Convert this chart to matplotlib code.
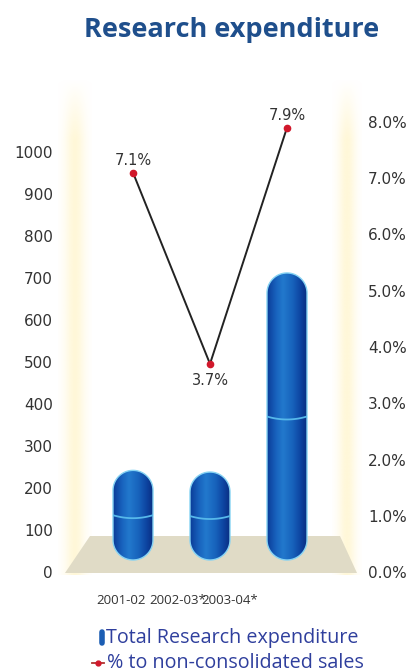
import numpy as np
import matplotlib
matplotlib.use('Agg')
import matplotlib.pyplot as plt
from matplotlib.colors import LinearSegmentedColormap, to_rgb
from matplotlib.patches import Polygon

# Research expenditure (left axis) and share of non-consolidated sales (right axis)
years = ['2001-02', '2002-03*', '2003-04*']
research_spend = [242, 238, 712]
pct_of_sales = [7.1, 3.7, 7.9]
spend_ticks = list(range(0, 1001, 100))
pct_ticks = list(range(0, 9))

W, H = 413, 672
fig = plt.figure(figsize=(W / 100, H / 100), dpi=100)

# --- background layer in pixel coordinates: side walls and floor ---
bg = fig.add_axes([0, 0, 1, 1])


def wall_strip(x0, x1, y0, y1, color='#fff6cf'):
    xs = np.linspace(-1, 1, 64)
    ys = np.linspace(0, 1, 200)
    alpha_x = np.exp(-(xs / 0.6) ** 2)
    alpha_y = np.clip(ys / 0.12, 0, 1)
    img = np.zeros((200, 64, 4))
    img[..., :3] = to_rgb(color)
    img[..., 3] = np.outer(alpha_y, alpha_x) * 0.8
    bg.imshow(img, extent=[x0, x1, y1, y0], aspect='auto',
              interpolation='bilinear', zorder=0)


wall_strip(58, 92, 78, 575)
wall_strip(332, 362, 78, 575)
bg.add_patch(Polygon([(65, 573), (357, 573), (340, 536), (90, 536)],
                     closed=True, fc='#e0dbc6', ec='none', zorder=1))

# legend drawn by hand
bg.plot([101.5, 101.5], [632, 643], lw=4, solid_capstyle='round', color='#1b5db3')
bg.text(106, 638, 'Total Research expenditure', ha='left', va='center',
        fontsize=14.2, color='#2f3f9d', family='Open Sans')
bg.plot([92, 104], [663, 663], color='#b0332e', lw=1.3)
bg.plot([98], [663], 'o', ms=3.5, color='#d1182b')
bg.text(107, 663, '% to non-consolidated sales', ha='left', va='center',
        fontsize=14.2, color='#2f3f9d', family='Open Sans')

bg.set_xlim(0, W)
bg.set_ylim(H, 0)
bg.axis('off')

# --- main chart ---
ax_box = [62, 122, 295, 450]  # left, top, width, height in px
ax = fig.add_axes([ax_box[0] / W, 1 - (ax_box[1] + ax_box[3]) / H,
                   ax_box[2] / W, ax_box[3] / H])
ax.patch.set_alpha(0)
xmin, xmax = -0.922, 2.909
ymax = 1000 * 450 / 420
ax.set_xlim(xmin, xmax)
ax.set_ylim(0, ymax)

px_x = ax_box[2] / (xmax - xmin)
px_y = ax_box[3] / ymax
hw = 20 / px_x
ry = 20 / px_y
base = 12 / px_y

bar_cmap = LinearSegmentedColormap.from_list('capsule', [
    (0.0, '#0b3c98'), (0.22, '#1862bd'), (0.4, '#2279cd'),
    (0.65, '#1762bb'), (0.85, '#0d43a0'), (1.0, '#0a2f82')])
grad = np.linspace(0, 1, 100).reshape(1, -1)

t = np.linspace(0, np.pi, 40)
for i, val in enumerate(research_spend):
    top_c = val - ry
    bot_c = base + ry
    xs = np.concatenate([i + hw * np.cos(t), i + hw * np.cos(t + np.pi)])
    ys = np.concatenate([top_c + ry * np.sin(t), bot_c + ry * np.sin(t + np.pi)])
    shape = Polygon(np.column_stack([xs, ys]), closed=True, fc='none',
                    ec='#86d3f3', lw=1.0, zorder=3)
    ax.add_patch(shape)
    im = ax.imshow(grad, cmap=bar_cmap, extent=[i - hw, i + hw, base, val],
                   aspect='auto', interpolation='bicubic', zorder=2)
    im.set_clip_path(shape)
    # capsule seam halfway up
    sx = np.linspace(-hw, hw, 30)
    sy = (base + val) / 2 - (3 / px_y) * (1 - (sx / hw) ** 2)
    seam, = ax.plot(i + sx, sy, color='#56b8ea', lw=1.3, zorder=4)
    seam.set_clip_path(shape)

ax.set_xlim(xmin, xmax)
ax.set_ylim(0, ymax)
ax.set_yticks(spend_ticks)
ax.tick_params(axis='y', length=0, pad=6.5, labelsize=11, labelcolor='#333333')

label_x = [-0.155, 0.585, 1.253]
ax.set_xticks(label_x, years, fontfamily='Open Sans', fontsize=9.5, color='#333333')
ax.tick_params(axis='x', length=0, pad=16)

ax2 = ax.twinx()
ax2.set_ylim(0, 8)
ax2.plot(range(len(pct_of_sales)), pct_of_sales, color='#222222', lw=1.4,
         marker='o', ms=4.5, mfc='#d1182b', mec='#d1182b', zorder=5)
for i, v in enumerate(pct_of_sales):
    dy = -12 if i == 1 else 9
    ax2.annotate(f'{v:.1f}%', (i, v), xytext=(0, dy), textcoords='offset points',
                 ha='center', va='center', fontsize=10.5, color='#333333')
ax2.set_yticks(pct_ticks, [f'{p:.1f}%' for p in pct_ticks])
ax2.tick_params(axis='y', length=0, pad=8, labelsize=11, labelcolor='#333333')

for a in (ax, ax2):
    for s in a.spines.values():
        s.set_visible(False)

fig.text(232 / W, 1 - 30 / H, 'Research expenditure', ha='center', va='center',
         fontsize=19.5, fontweight='bold', color='#1f4f8c', family='Open Sans')

fig.savefig('out.png', dpi=100)
